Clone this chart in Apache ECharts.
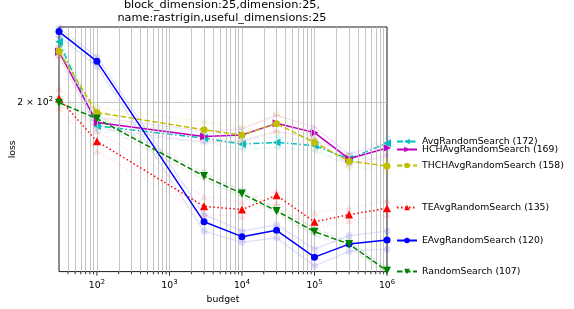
<!DOCTYPE html>
<html><head><meta charset="utf-8">
<script src="https://cdn.jsdelivr.net/npm/echarts@6/dist/echarts.min.js"></script>
<style>html,body{margin:0;padding:0;background:#fff}#c{width:574px;height:309px}</style>
</head><body><div id="c"></div>
<script>
const budgets = [30, 100, 3000, 10000, 30000, 100000, 300000, 1000000];

const avgRandomSearch     = [250.8, 183.4, 175.3, 171.4, 172.5, 170.5, 162.3, 172];
const hchAvgRandomSearch  = [241.7, 185.7, 176.3, 177.3, 185.2, 178.9, 162.3, 169];
const thchAvgRandomSearch = [242.0, 192.8, 180.8, 177.3, 185.0, 172.4, 160.9, 158];
const teAvgRandomSearch   = [203.2, 173.2, 136.0, 134.4, 141.7, 128.4, 131.9, 135];
const eAvgRandomSearch    = [260.5, 233.2, 128.4, 121.5, 124.4, 112.6, 118.2, 120];
const randomSearch        = [200.0, 188.5, 152.2, 142.6, 133.7, 123.8, 118.2, 107];

const avgUpper  = [255.5, 187.3, 178.6, 174.7, 176.0, 174.0, 165.2, 175.3];
const avgLower  = [246.2, 179.9, 172.1, 168.3, 169.3, 167.1, 159.3, 169.0];
const hchUpper  = [245.3, 189.4, 179.9, 181.2, 190.8, 182.6, 165.2, 171.5];
const hchLower  = [237.3, 181.9, 172.7, 173.4, 179.9, 174.7, 158.7, 164.6];
const thchUpper = [246.2, 196.6, 186.0, 182.6, 191.5, 176.0, 164.0, 161.0];
const thchLower = [238.2, 188.7, 176.0, 172.7, 179.2, 169.0, 157.5, 155.2];
const teUpper   = [211.0, 180.0, 141.0, 138.5, 144.0, 133.0, 135.0, 139.0];
const teLower   = [196.0, 167.0, 132.0, 131.0, 138.0, 125.0, 129.0, 132.0];
const eUpper    = [264.0, 237.0, 132.0, 124.0, 127.0, 116.0, 122.0, 124.0];
const eLower    = [256.0, 229.0, 124.0, 119.0, 121.0, 109.0, 115.0, 116.0];
const rsUpper   = [202.5, 190.8, 154.1, 144.1, 135.4, 125.3, 119.4, 108.1];
const rsLower   = [197.3, 186.0, 150.1, 141.0, 132.4, 122.1, 116.8, 106.0];

const xMajorTicks = [100, 1000, 10000, 100000, 1000000];
const xMinorTicks = [40,50,60,70,80,90,200,300,400,500,600,700,800,900,2000,3000,4000,5000,6000,7000,8000,9000,
  20000,30000,40000,50000,60000,70000,80000,90000,200000,300000,400000,500000,600000,700000,800000,900000];
const yLabelTicks = [200];

const X_MIN = 30, X_MAX = 1000000, Y_MIN = 106.7, Y_MAX = 265;
const FONT = 'DejaVu Sans';
const FS = 9.3;

const defs = [
  {name:'AvgRandomSearch (172)', data:avgRandomSearch, up:avgUpper, lo:avgLower, color:'#00bfbf', dash:[6,2.5,1.5,2.5], symbol:'triangle', rot:90, legendY:143},
  {name:'HCHAvgRandomSearch (169)', data:hchAvgRandomSearch, up:hchUpper, lo:hchLower, color:'#bf00bf', dash:'solid', symbol:'triangle', rot:-90, legendY:151},
  {name:'THCHAvgRandomSearch (158)', data:thchAvgRandomSearch, up:thchUpper, lo:thchLower, color:'#bfbf00', dash:[5.5,2.5], symbol:'circle', rot:0, legendY:167},
  {name:'TEAvgRandomSearch (135)', data:teAvgRandomSearch, up:teUpper, lo:teLower, color:'#ff0000', dash:[1.5,2.5], symbol:'triangle', rot:0, legendY:209},
  {name:'EAvgRandomSearch (120)', data:eAvgRandomSearch, up:eUpper, lo:eLower, color:'#0000ff', dash:'solid', symbol:'circle', rot:0, legendY:242},
  {name:'RandomSearch (107)', data:randomSearch, up:rsUpper, lo:rsLower, color:'#008000', dash:[5.5,2.5], symbol:'triangle', rot:180, legendY:273}
];

const pairs = arr => budgets.map((b, i) => [b, arr[i]]);
const series = [];

// gridlines & ticks
series.push({
  type:'line', data:[], silent:true, z:1,
  markLine:{
    silent:true, symbol:'none', animation:false,
    lineStyle:{color:'#bdbdbd', width:0.9, type:'solid'},
    label:{show:false},
    data: xMinorTicks.concat(xMajorTicks.slice(0,4)).map(v => ({xAxis:v}))
      .concat(yLabelTicks.map(v => ({yAxis:v, label:{show:true, position:'start', distance:6,
        formatter:'2 × 10{s|2}', color:'#000', fontFamily:FONT, fontSize:FS,
        rich:{s:{fontSize:6.8, padding:[0,0,7,0], fontFamily:FONT, color:'#000'}}}})))
  },
  markPoint:{
    silent:true, animation:false, label:{show:false},
    data: xMinorTicks.map(v => ({coord:[v, Y_MIN], symbol:'rect', symbolSize:[0.8,2.2], symbolOffset:[0,1.6], itemStyle:{color:'#000'}}))
      .concat(xMajorTicks.map(v => ({coord:[v, Y_MIN], symbol:'rect', symbolSize:[0.8,3.6], symbolOffset:[0,2.3], itemStyle:{color:'#000'}})))
  }
});

defs.forEach(d => {
  [d.up, d.lo].forEach(arr => {
    series.push({
      type:'line', name:d.name + ' band', data:pairs(arr), z:2, silent:true,
      symbol:d.symbol, symbolRotate:d.rot, symbolSize:7,
      lineStyle:{color:d.color, width:1.3, type:d.dash, opacity:0.12},
      itemStyle:{color:d.color, opacity:0.12}, animation:false
    });
  });
});
defs.forEach((d, i) => {
  series.push({
    type:'line', name:d.name, data:pairs(d.data), z:3 + i,
    symbol:d.symbol, symbolRotate:d.rot, symbolSize:d.symbol === 'circle' ? 7 : 8,
    lineStyle:{color:d.color, width:1.5, type:d.dash},
    itemStyle:{color:d.color}, animation:false
  });
});

const legends = defs.map(d => ({
  data:[d.name], left:396, top:d.legendY - 6, orient:'vertical', padding:0,
  itemWidth:20, itemHeight:7, itemGap:0, selectedMode:false,
  textStyle:{fontFamily:FONT, fontSize:FS, color:'#000'}
}));

const chart = echarts.init(document.getElementById('c'), null, {renderer:'canvas'});
chart.setOption({
  animation:false,
  title:{
    text:'block_dimension:25,dimension:25,\nname:rastrigin,useful_dimensions:25',
    left:222, top:-1, textAlign:'center', padding:0,
    textStyle:{fontFamily:FONT, fontSize:11.3, fontWeight:'normal', color:'#000', lineHeight:12.7}
  },
  legend:legends,
  grid:{left:57, top:27, right:187, bottom:36, show:true, borderColor:'#000', borderWidth:0.9, backgroundColor:'transparent'},
  xAxis:{
    type:'log', logBase:10, min:X_MIN, max:X_MAX,
    name:'budget', nameLocation:'middle', nameGap:19,
    nameTextStyle:{fontFamily:FONT, fontSize:FS, color:'#000'},
    axisLine:{show:false}, axisTick:{show:false}, splitLine:{show:false},
    axisLabel:{
      margin:7, color:'#000', fontFamily:FONT, fontSize:FS,
      formatter:function(v){
        const e = Math.log10(v);
        if (Math.abs(e - Math.round(e)) < 1e-6 && Math.round(e) >= 2) return '10{s|' + Math.round(e) + '}';
        return '';
      },
      rich:{s:{fontSize:6.8, padding:[0,0,7,0], fontFamily:FONT, color:'#000'}}
    }
  },
  yAxis:{
    type:'log', logBase:10, min:Y_MIN, max:Y_MAX,
    name:'loss', nameLocation:'middle', nameGap:42, nameRotate:90,
    nameTextStyle:{fontFamily:FONT, fontSize:FS, color:'#000'},
    axisLine:{show:false}, axisTick:{show:false}, splitLine:{show:false}, axisLabel:{show:false}
  },
  series:series
});
</script></body></html>
